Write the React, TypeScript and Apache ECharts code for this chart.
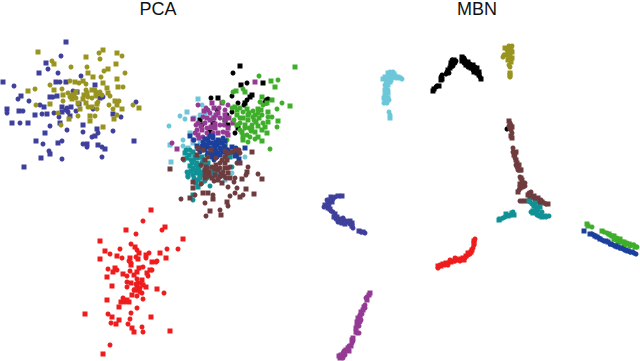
import React, { useEffect, useRef } from "react";
import * as echarts from "echarts";

type P = number[][];
const panelTitles = ["PCA", "MBN"];

// PCA panel
const pcaIndigo: P = [[66,42],[61,56],[46,63],[48,69],[39,73],[58,73],[3,82],[14,86],[56,82],[60,82],[66,82],[81,76],[95,85],[18,99],[21,96],[29,101],[50,97],[53,97],[57,96],[73,91],[77,92],[103,97],[100,98],[136,102],[7,109],[7,113],[19,111],[23,111],[35,115],[40,105],[44,107],[42,114],[47,114],[54,113],[62,107],[67,108],[71,107],[59,117],[70,116],[76,111],[79,104],[93,109],[113,114],[121,117],[12,123],[20,123],[28,123],[50,126],[60,123],[67,130],[83,125],[83,132],[45,133],[113,131],[97,129],[98,133],[95,136],[92,137],[36,141],[43,144],[58,143],[62,141],[134,141],[83,144],[87,144],[87,147],[98,145],[102,147],[105,149],[49,151],[50,154],[102,157],[41,158],[62,159],[24,167],[66,110],[62,112],[68,112]];
const pcaOlive: P = [[38,52],[52,61],[54,64],[71,67],[86,57],[99,53],[103,50],[100,59],[117,53],[122,56],[116,64],[87,67],[88,73],[104,71],[108,69],[125,73],[93,77],[101,77],[117,79],[70,81],[75,82],[79,83],[83,81],[86,84],[103,83],[50,85],[54,90],[62,89],[28,91],[35,89],[118,87],[123,87],[107,88],[86,90],[87,93],[95,90],[98,93],[102,95],[108,93],[110,96],[63,95],[68,93],[74,95],[76,98],[72,99],[63,101],[83,99],[92,98],[50,104],[36,105],[86,103],[88,107],[92,107],[98,102],[97,104],[97,109],[80,109],[109,105],[115,101],[119,101],[117,105],[133,105],[139,108],[113,109],[122,109],[117,115],[114,119],[58,113],[69,119],[78,116],[90,116],[95,116],[90,121],[61,125],[103,127],[72,95],[76,92],[70,97],[96,93],[100,92],[92,90],[88,97],[84,95],[96,96],[78,103]];
const pcaRed: P = [[151,210],[143,221],[126,230],[136,234],[165,227],[162,230],[183,239],[178,249],[100,241],[131,244],[105,251],[120,249],[135,247],[137,250],[139,253],[167,249],[160,253],[149,253],[146,255],[110,254],[117,256],[122,258],[100,259],[136,257],[138,259],[146,258],[166,258],[157,261],[152,262],[129,261],[131,265],[143,267],[139,268],[108,269],[115,268],[117,270],[113,272],[130,271],[137,272],[152,270],[123,274],[127,276],[147,273],[148,276],[107,277],[137,279],[142,280],[141,283],[137,287],[140,288],[131,283],[127,282],[112,286],[127,287],[146,287],[134,290],[138,290],[142,293],[157,289],[164,293],[132,295],[137,296],[107,300],[123,298],[121,302],[125,302],[129,302],[143,299],[119,307],[137,308],[85,314],[108,314],[112,317],[131,313],[151,317],[130,319],[119,320],[111,323],[116,324],[128,324],[132,328],[142,327],[134,332],[143,332],[170,331],[110,345],[103,354],[138,283],[143,285],[136,284],[135,290],[140,292],[127,300],[123,301],[134,275],[131,263],[130,258],[156,262],[150,270]];
const pcaBlack: P = [[240,66],[233,73],[241,85],[247,83],[263,83],[211,98],[218,98],[232,96],[250,97],[247,100],[245,103],[268,99],[265,103],[227,115],[225,120],[217,110],[200,120],[202,125],[213,123],[232,112],[238,128],[235,133],[210,132],[238,103],[228,125],[244,105],[252,95],[266,100]];
const pcaPurple: P = [[255,82],[198,105],[222,103],[228,105],[214,108],[210,113],[218,113],[225,110],[193,119],[203,117],[207,118],[220,118],[225,115],[198,123],[210,120],[197,130],[202,130],[207,128],[215,128],[220,125],[228,128],[213,133],[218,133],[223,132],[198,135],[203,137],[228,135],[193,140],[199,138],[172,143],[177,149],[209,137],[233,123],[206,108],[212,103],[219,108],[216,115],[205,123],[214,118],[225,120],[229,118],[196,125],[201,126],[207,133],[211,127],[195,133],[204,111],[208,110],[215,124],[224,125],[227,133]];
const pcaLightBlue: P = [[198,99],[202,105],[205,113],[180,116],[187,112],[185,119],[194,118],[169,126],[213,117],[200,115],[190,133],[183,140],[193,143],[200,142],[170,145],[183,146],[188,148],[192,155],[171,162],[245,157],[225,180],[232,173],[193,162],[190,173]];
const pcaGreen: P = [[295,67],[259,76],[271,81],[278,80],[275,87],[233,92],[236,91],[243,89],[245,92],[223,102],[262,97],[260,102],[272,100],[282,103],[290,106],[277,109],[235,107],[240,108],[247,109],[253,111],[258,109],[262,115],[268,112],[268,117],[259,118],[253,117],[237,115],[234,120],[243,118],[240,123],[248,120],[252,125],[278,121],[277,127],[268,122],[263,123],[258,126],[245,128],[242,132],[247,135],[255,132],[252,128],[267,133],[255,139],[262,141],[248,142],[243,140],[227,140],[225,143],[270,149],[237,110],[243,112],[249,113],[255,115],[261,110],[258,113],[237,125],[240,118],[245,125],[249,128],[256,122],[254,120],[248,115],[251,131],[243,136],[250,137],[258,137],[263,105],[267,103],[240,130],[265,127],[272,117],[262,130],[232,108]];
const pcaNavy: P = [[190,136],[203,142],[208,140],[213,138],[218,140],[202,146],[207,145],[212,143],[217,145],[222,143],[205,150],[210,148],[215,149],[220,148],[225,147],[208,153],[213,153],[218,153],[223,152],[200,152],[212,157],[217,157],[203,147],[228,150],[232,147],[223,138],[245,148],[237,155],[239,159],[237,152],[227,155],[213,136],[205,139],[210,136],[216,142],[220,141],[225,141],[204,144],[209,143],[214,146],[219,143],[224,146],[206,147],[211,151],[216,151],[221,150],[226,150],[207,155],[210,155],[215,155],[220,155],[198,149],[201,149],[230,153],[234,152],[236,148],[235,156],[214,160],[197,146],[194,140]];
const pcaTeal: P = [[185,153],[184,160],[195,157],[198,158],[202,157],[197,163],[202,163],[193,168],[198,168],[205,170],[188,175],[193,175],[200,175],[188,177],[196,173],[203,175],[198,180],[202,183],[210,168],[218,170],[210,175],[207,178],[230,157],[232,167],[198,187],[210,186],[193,195],[193,200],[215,173],[220,175],[208,163],[192,163],[203,160],[186,150],[189,155],[191,160],[187,158],[194,160],[190,166],[196,165],[200,166],[195,170],[199,171],[203,172],[191,171],[187,172],[206,165],[212,172],[214,169],[206,174],[200,178],[194,178],[196,183],[205,181],[216,176],[190,150],[193,152]];
const pcaBrown: P = [[198,148],[203,150],[211,150],[225,151],[232,152],[239,150],[252,152],[208,157],[205,160],[216,158],[225,157],[183,159],[170,169],[237,163],[240,163],[230,167],[225,163],[220,163],[205,170],[212,167],[218,170],[223,172],[228,173],[248,167],[247,172],[246,175],[215,175],[220,177],[212,178],[258,174],[262,179],[235,178],[242,179],[234,182],[193,182],[201,184],[222,183],[228,187],[193,188],[237,188],[246,189],[235,193],[203,193],[213,195],[208,193],[230,196],[240,197],[243,195],[254,194],[195,195],[190,198],[181,199],[227,202],[228,206],[213,199],[205,203],[210,211],[220,210],[221,215],[206,216],[206,167],[209,172],[215,169],[220,168],[225,168],[228,168],[216,165],[222,160],[227,160],[205,174],[209,176],[214,181],[218,180],[224,176],[230,178],[207,168],[221,174],[226,178],[205,178],[240,153],[236,150],[228,153],[197,155],[201,165]];

// MBN panel
const mbnLightBlue: P = [[388,73],[393,72],[398,77],[402,79],[383,79],[388,78],[395,76],[387,83],[386,88],[388,90],[385,95],[385,100],[388,98],[387,103],[390,82],[392,78],[388,93],[389,112],[390,118],[390,115],[385,77],[390,75],[394,74],[396,78],[400,78],[386,81],[389,80],[385,85],[388,85],[386,92],[384,98],[386,96],[386,101],[389,100],[391,80],[384,103],[385,90],[390,72]];
const mbnBlack: P = [[433,91],[436,87],[439,86],[441,77],[442,79],[447,72],[450,68],[452,60],[451,63],[455,63],[463,59],[464,63],[468,62],[468,67],[473,65],[473,70],[477,68],[478,73],[481,79],[472,67],[477,73],[507,129],[434,89],[437,86],[441,80],[446,74],[448,70],[449,73],[451,66],[453,66],[454,60],[456,61],[462,57],[465,60],[466,65],[470,64],[471,68],[475,67],[474,72],[476,71],[479,75],[480,77],[479,72],[464,58],[462,61],[442,75]];
const mbnOlive: P = [[510,47],[507,50],[512,52],[503,57],[506,55],[509,57],[511,62],[509,65],[510,73],[510,77],[505,48],[509,46],[511,49],[508,53],[510,54],[504,55],[512,58],[510,60],[508,60],[510,67],[510,75],[512,46]];
const mbnTeal: P = [[499,220],[503,218],[508,216],[513,212],[514,215],[530,202],[535,203],[531,212],[535,212],[538,210],[540,207],[540,215],[545,216],[549,216],[533,211],[542,212],[500,219],[505,217],[506,214],[510,215],[512,213],[511,215],[529,201],[532,204],[534,206],[536,207],[533,213],[537,215],[537,212],[539,216],[542,217],[546,217],[536,209]];
const mbnBrown: P = [[509,121],[511,125],[510,128],[512,133],[512,138],[513,152],[516,152],[515,158],[517,163],[518,168],[520,170],[520,177],[522,180],[525,183],[522,185],[519,190],[518,192],[529,193],[532,197],[537,200],[542,202],[546,204],[528,195],[535,198],[539,201],[520,201],[525,201],[510,123],[512,127],[509,126],[511,136],[511,130],[514,155],[515,155],[516,160],[516,165],[519,165],[517,167],[521,170],[518,170],[521,178],[523,183],[520,184],[525,186],[520,188],[523,187],[530,195],[531,192],[534,196],[535,200],[540,203],[544,203],[530,198],[522,201],[538,198],[541,200],[548,204],[513,148]];
const mbnGreen: P = [[587,224],[592,227],[602,231],[607,233],[612,236],[617,238],[622,242],[627,243],[632,245],[637,247],[618,242],[604,232],[609,234],[610,235],[614,236],[616,240],[620,239],[620,241],[624,242],[625,245],[629,244],[630,246],[635,247],[634,245],[588,226],[624,246],[614,239]];
const mbnNavy: P = [[584,231],[592,234],[597,237],[602,240],[608,242],[613,245],[618,247],[623,249],[628,251],[634,253],[590,234],[594,235],[595,236],[599,238],[600,239],[604,241],[606,241],[610,244],[611,244],[615,246],[616,246],[620,248],[621,248],[625,250],[626,250],[630,252],[632,252],[636,254]];
const mbnIndigo: P = [[342,196],[335,197],[331,197],[328,202],[332,202],[324,207],[328,208],[333,212],[337,217],[338,222],[343,220],[348,222],[352,223],[353,228],[359,231],[365,233],[342,223],[327,205],[338,196],[333,199],[330,200],[327,200],[325,205],[329,205],[330,209],[331,211],[335,214],[336,219],[334,217],[340,219],[339,220],[346,221],[345,224],[350,224],[350,221],[343,218],[352,226],[361,232],[363,232],[340,222]];
const mbnRed: P = [[474,241],[474,245],[472,250],[468,255],[463,258],[458,260],[453,261],[448,263],[443,264],[438,268],[474,243],[473,248],[471,252],[470,254],[466,256],[465,258],[461,259],[460,261],[456,259],[455,261],[451,262],[450,260],[446,263],[445,265],[441,266],[440,265],[438,266],[475,239],[468,253],[448,265],[464,260],[455,258]];
const mbnPurple: P = [[370,293],[367,297],[367,300],[365,305],[363,310],[360,315],[359,320],[357,325],[360,317],[357,333],[353,338],[352,343],[348,348],[343,353],[340,358],[345,355],[369,295],[366,298],[364,307],[365,308],[361,312],[362,314],[358,318],[361,320],[357,322],[359,326],[356,328],[360,322],[356,332],[359,333],[352,340],[353,341],[351,346],[349,346],[346,350],[344,351],[341,355],[345,352],[339,356],[343,358],[349,351]];

const INDIGO = "#3f3f9c", OLIVE = "#98941f", RED = "#ee1c1c", BLACK = "#000000", PURPLE = "#943a94",
  LIGHT = "#6cc7d9", GREEN = "#3fae2a", NAVY = "#1b409c", TEAL = "#0f9196", BROWN = "#6e3c3e";

const pcaSeries: [P, string][] = [[pcaIndigo, INDIGO],[pcaOlive, OLIVE],[pcaRed, RED],[pcaLightBlue, LIGHT],[pcaBlack, BLACK],[pcaPurple, PURPLE],[pcaGreen, GREEN],[pcaNavy, NAVY],[pcaTeal, TEAL],[pcaBrown, BROWN]];
const mbnSeries: [P, string][] = [[mbnLightBlue, LIGHT],[mbnBlack, BLACK],[mbnOlive, OLIVE],[mbnBrown, BROWN],[mbnTeal, TEAL],[mbnGreen, GREEN],[mbnNavy, NAVY],[mbnIndigo, INDIGO],[mbnRed, RED],[mbnPurple, PURPLE]];

const toSeries = (list: [P, string][], axis: number) =>
  list.map(([data, color]) => ({
    type: "scatter", xAxisIndex: axis, yAxisIndex: axis, data,
    symbol: (_v: unknown, p: { dataIndex: number }) => (p.dataIndex % 2 === 0 ? "rect" : "circle"),
    symbolSize: 5, silent: true, itemStyle: { color, opacity: 1 },
  }));

export default function App() {
  const ref = useRef<HTMLDivElement>(null);
  useEffect(() => {
    document.body.style.margin = "0";
    const chart = echarts.init(ref.current!, null, { renderer: "svg" });
    const hidden = { show: false };
    chart.setOption({
      animation: false,
      backgroundColor: "#ffffff",
      title: panelTitles.map((text, i) => ({
        text, left: i === 0 ? 158 : 477, top: 0, padding: 0, textAlign: "center",
        textStyle: { fontFamily: "Liberation Sans", fontSize: 18, fontWeight: "normal", color: "#111111" },
      })),
      grid: [
        { left: 0, top: 0, width: 320, height: 361 },
        { left: 320, top: 0, width: 320, height: 361 },
      ],
      xAxis: [
        { type: "value", gridIndex: 0, min: 0, max: 320, ...hidden },
        { type: "value", gridIndex: 1, min: 320, max: 640, ...hidden },
      ],
      yAxis: [
        { type: "value", gridIndex: 0, min: 0, max: 361, inverse: true, ...hidden },
        { type: "value", gridIndex: 1, min: 0, max: 361, inverse: true, ...hidden },
      ],
      series: [...toSeries(pcaSeries, 0), ...toSeries(mbnSeries, 1)],
    });
    return () => chart.dispose();
  }, []);
  return <div ref={ref} style={{ width: 640, height: 361 }} />;
}
